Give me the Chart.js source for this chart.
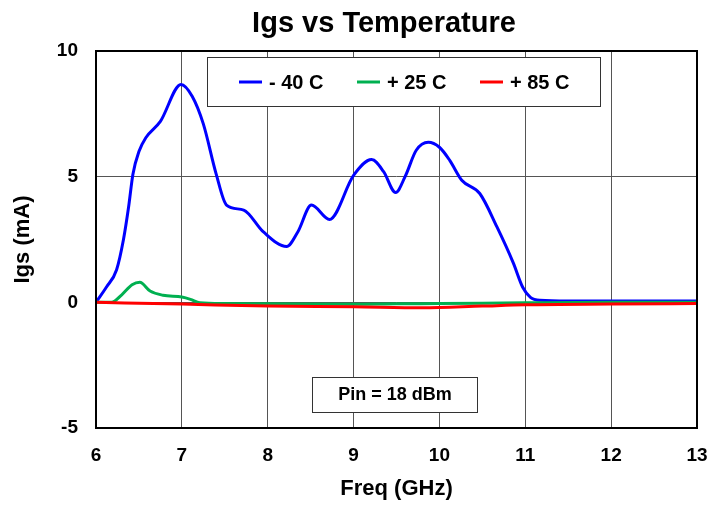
<!DOCTYPE html>
<html>
<head>
<meta charset="utf-8">
<script src="https://cdn.jsdelivr.net/npm/chart.js@4"></script>
<style>
  html, body { margin: 0; padding: 0; background: #fff; }
  #wrap { width: 712px; height: 506px; position: relative; }
</style>
</head>
<body>
<div id="wrap"><canvas id="chart"></canvas></div>
<script>
const FONT = "'Liberation Sans', Arial, sans-serif";

const X_TICKS = [6, 7, 8, 9, 10, 11, 12, 13];
const Y_TICKS = [-5, 0, 5, 10];

// -40 C
const coldX = [6.0, 6.12, 6.24, 6.32, 6.38, 6.43, 6.5, 6.58, 6.75, 6.99, 7.12, 7.25, 7.40, 7.52, 7.72, 7.95, 8.22, 8.35, 8.51, 8.72, 9.0, 9.21, 9.35, 9.49, 9.6, 9.73, 9.87, 10.0, 10.12, 10.26, 10.47, 10.67, 10.86, 10.97, 11.06, 11.17, 11.5, 12, 13];
const coldY = [0, 0.6, 1.3, 2.5, 3.8, 5.1, 6.0, 6.55, 7.2, 8.67, 8.2, 7.1, 5.1, 3.87, 3.67, 2.8, 2.22, 2.8, 3.87, 3.3, 5.05, 5.68, 5.2, 4.37, 5.0, 6.05, 6.37, 6.17, 5.65, 4.86, 4.33, 3.0, 1.57, 0.6, 0.2, 0.08, 0.05, 0.05, 0.05];

// +25 C
const roomX = [6, 6.18, 6.3, 6.42, 6.51, 6.63, 6.78, 7.0, 7.1, 7.21, 7.5, 8, 9, 9.5, 10, 11, 12, 13];
const roomY = [0, 0, 0.3, 0.7, 0.8, 0.45, 0.28, 0.21, 0.12, -0.02, -0.05, -0.06, -0.08, -0.06, -0.05, -0.02, 0, 0];

// +85 C
const hotX = [6, 7, 8, 9, 9.8, 10.5, 11, 12, 13];
const hotY = [0, -0.07, -0.15, -0.18, -0.22, -0.15, -0.1, -0.07, -0.05];

const LABELS = ["- 40 C", "+ 25 C", "+ 85 C"];
const COLORS = ["#0000ff", "#00b050", "#ff0000"];

function pts(xs, ys) {
  return xs.map((x, i) => ({ x, y: ys[i] }));
}

const decor = {
  id: "decor",
  beforeDraw(chart) {
    const c = chart.ctx;
    c.save();
    c.fillStyle = "#fff";
    c.fillRect(0, 0, chart.width, chart.height);
    c.restore();
  },
  afterDraw(chart) {
    const c = chart.ctx;
    const a = chart.chartArea;
    c.save();
    // plot border
    c.strokeStyle = "#000";
    c.lineWidth = 2;
    c.strokeRect(a.left, a.top, a.right - a.left, a.bottom - a.top);

    // title
    c.fillStyle = "#000";
    c.font = "bold 29px " + FONT;
    c.textAlign = "center";
    c.textBaseline = "alphabetic";
    c.fillText("Igs vs Temperature", 384, 32);

    // legend box
    c.fillStyle = "#fff";
    c.fillRect(207, 57, 393, 49);
    c.strokeStyle = "#333";
    c.lineWidth = 1;
    c.strokeRect(207.5, 57.5, 393, 49);
    const lx = [239, 357, 480];
    c.font = "bold 20px " + FONT;
    c.textAlign = "left";
    c.textBaseline = "middle";
    LABELS.forEach((lab, i) => {
      c.strokeStyle = COLORS[i];
      c.lineWidth = 3;
      c.beginPath();
      c.moveTo(lx[i], 82);
      c.lineTo(lx[i] + 23, 82);
      c.stroke();
      c.fillStyle = "#000";
      c.fillText(lab, lx[i] + 30, 83);
    });

    // pin note
    c.fillStyle = "#fff";
    c.fillRect(312, 377, 165, 35);
    c.strokeStyle = "#333";
    c.lineWidth = 1;
    c.strokeRect(312.5, 377.5, 165, 35);
    c.fillStyle = "#000";
    c.font = "bold 18px " + FONT;
    c.textAlign = "center";
    c.fillText("Pin = 18 dBm", 395, 395);
    c.restore();
  }
};

new Chart(document.getElementById("chart"), {
  type: "line",
  data: {
    datasets: [
      { label: LABELS[0], data: pts(coldX, coldY), borderColor: COLORS[0], borderWidth: 3, order: 2 },
      { label: LABELS[1], data: pts(roomX, roomY), borderColor: COLORS[1], borderWidth: 3, order: 1 },
      { label: LABELS[2], data: pts(hotX, hotY), borderColor: COLORS[2], borderWidth: 3, order: 0 }
    ]
  },
  options: {
    responsive: true,
    maintainAspectRatio: false,
    animation: false,
    layout: { padding: { top: 51, right: 15, left: 0, bottom: 0 } },
    elements: {
      point: { radius: 0 },
      line: { cubicInterpolationMode: "monotone", fill: false }
    },
    plugins: { legend: { display: false }, title: { display: false }, tooltip: { enabled: false } },
    scales: {
      x: {
        type: "linear",
        min: 6, max: 13,
        afterFit: s => { s.height = 78; s.paddingLeft = 0; s.paddingRight = 0; },
        afterBuildTicks: s => { s.ticks = X_TICKS.map(v => ({ value: v })); },
        grid: { color: "#555", lineWidth: 1, drawTicks: false },
        border: { display: false },
        ticks: { color: "#000", font: { family: FONT, size: 19, weight: "bold" }, padding: 16, maxRotation: 0 },
        title: { display: true, text: "Freq (GHz)", color: "#000", font: { family: FONT, size: 22, weight: "bold" }, padding: { top: 0, bottom: 4 } }
      },
      y: {
        min: -5, max: 10,
        afterFit: s => { s.width = 96; s.paddingTop = 0; s.paddingBottom = 0; },
        afterBuildTicks: s => { s.ticks = Y_TICKS.map(v => ({ value: v })); },
        grid: { color: "#555", lineWidth: 1, drawTicks: false },
        border: { display: false },
        ticks: { color: "#000", font: { family: FONT, size: 19, weight: "bold" }, padding: 18 },
        title: { display: true, text: "Igs (mA)", color: "#000", font: { family: FONT, size: 22, weight: "bold" }, padding: { top: 10, bottom: 0 } }
      }
    }
  },
  plugins: [decor]
});
</script>
</body>
</html>
